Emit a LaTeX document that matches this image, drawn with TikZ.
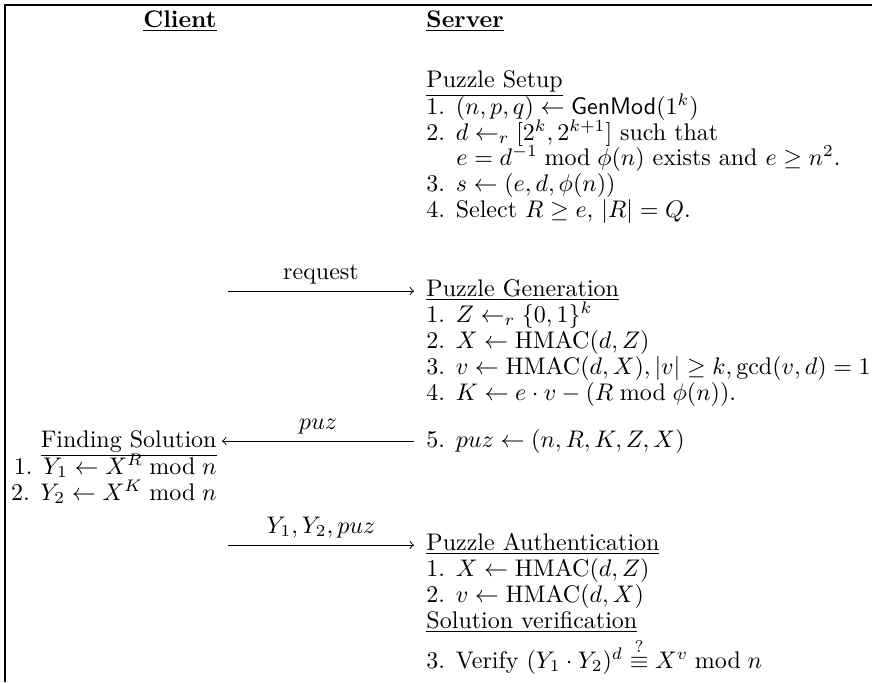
\documentclass[tikz,border=0pt]{standalone}
\usepackage{amsmath,amssymb}
\begin{document}
\begin{tikzpicture}[x=0.41667pt,y=-0.41667pt,
  txt/.style={inner sep=0pt, anchor=base west},
  ctxt/.style={inner sep=0pt, anchor=base east},
  arr/.style={->, line width=0.4pt},
  lab/.style={pos=0.5, anchor=base, inner sep=0pt, yshift=5pt},
  frame/.style={line width=0.5pt}]
\useasboundingbox (0,0) rectangle (872,682);
% frame
\coordinate (tl) at (5,5);
\coordinate (tr) at (872,5);
\coordinate (bl) at (5,682);
\draw[frame] (tr) -- (tl) -- (bl);
% headers
\node[ctxt] (client) at (217,27) {\underline{\textbf{Client}}};
\node[txt] (server) at (426,27) {\underline{\textbf{Server}}};
% setup
\node[txt] (setup) at (426,87) {\underline{Puzzle Setup}};
\node[txt] (s1) at (426,114) {1. $(n,p,q)\leftarrow \mathsf{GenMod}(1^k)$};
\node[txt] (s2) at (426,140) {2. $d\leftarrow_r [2^k,2^{k+1}]$ such that};
\node[txt] (s2b) at (456,165) {$e=d^{-1} \bmod \phi(n)$ exists and $e\geq n^2$.};
\node[txt] (s3) at (426,191) {3. $s\leftarrow(e,d,\phi(n))$};
\node[txt] (s4) at (426,217) {4. Select $R\geq e$, $|R|=Q$.};
% generation
\node[txt] (gen) at (426,296) {\underline{Puzzle Generation}};
\node[txt] (g1) at (426,322) {1. $Z\leftarrow_r \{0,1\}^k$};
\node[txt] (g2) at (426,348) {2. $X\leftarrow \mathrm{HMAC}(d,Z)$};
\node[txt] (g3) at (426,374) {3. $v\leftarrow \mathrm{HMAC}(d,X), |v|\geq k, \gcd(v,d)=1$};
\node[txt] (g4) at (426,400) {4. $K\leftarrow e\cdot v-(R \bmod \phi(n))$.};
\node[txt] (g5) at (426,447) {5. $puz\leftarrow(n,R,K,Z,X)$};
% client
\node[ctxt] (find) at (217,447) {\underline{Finding Solution}};
\node[ctxt] (c1) at (217,474) {1. $Y_1\leftarrow X^R \bmod n$};
\node[ctxt] (c2) at (217,500) {2. $Y_2\leftarrow X^K \bmod n$};
% authentication
\node[txt] (auth) at (426,550) {\underline{Puzzle Authentication}};
\node[txt] (a1) at (426,576) {1. $X\leftarrow\mathrm{HMAC}(d,Z)$};
\node[txt] (a2) at (426,602) {2. $v\leftarrow\mathrm{HMAC}(d,X)$};
\node[txt] (ver) at (426,628) {\underline{Solution verification}};
\node[txt] (a3) at (426,668) {3. Verify $(Y_1\cdot Y_2)^d \stackrel{?}{\equiv} X^v \bmod n$};
% arrows
\coordinate (rq0) at (228,291);
\coordinate (rq1) at (414,291);
\draw[arr] (rq0) -- node[lab] {request} (rq1);
\coordinate (pz0) at (414,441);
\coordinate (pz1) at (222,441);
\draw[arr] (pz0) -- node[lab] {$puz$} (pz1);
\coordinate (y0) at (228,545);
\coordinate (y1) at (414,545);
\draw[arr] (y0) -- node[lab] {$Y_1,Y_2,puz$} (y1);
\end{tikzpicture}
\end{document}
